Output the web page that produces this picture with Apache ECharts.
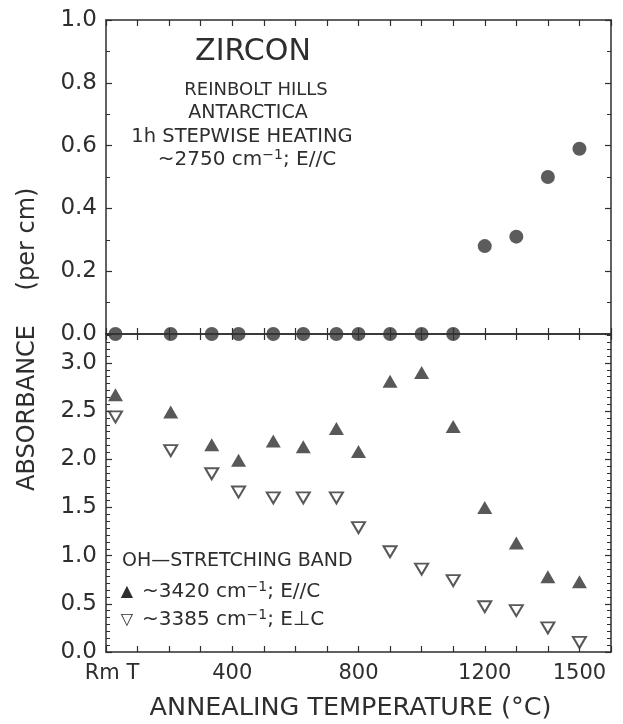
<!DOCTYPE html>
<html>
<head>
<meta charset="utf-8">
<script src="https://cdn.jsdelivr.net/npm/echarts@6/dist/echarts.min.js"></script>
<style>
  html, body { margin: 0; padding: 0; background: #fff; }
  #chart { width: 623px; height: 724px; }
</style>
</head>
<body>
<div id="chart"></div>
<script>
// Annealing steps (°C); the first step is room temperature
const temps = [30, 205, 335, 420, 530, 625, 730, 800, 900, 1000, 1100, 1200, 1300, 1400, 1500];
// ~2750 cm-1 band, E//c (upper panel)
const band2750 = [0, 0, 0, 0, 0, 0, 0, 0, 0, 0, 0, 0.28, 0.31, 0.50, 0.59];
// OH-stretching bands (lower panel)
const band3420 = [2.67, 2.49, 2.15, 1.99, 2.19, 2.13, 2.32, 2.08, 2.81, 2.90, 2.34, 1.50, 1.13, 0.78, 0.73];
const band3385 = [2.44, 2.09, 1.85, 1.66, 1.60, 1.60, 1.60, 1.29, 1.04, 0.86, 0.74, 0.47, 0.43, 0.25, 0.10];
// Temperature axis labels
const xTickLabels = { 0: 'Rm T', 400: '400', 800: '800', 1200: '1200', 1500: '1500' };

const ink = '#2e2e2e';
const FONT = '"DejaVu Sans", Verdana, sans-serif';
const zip = (xs, ys) => xs.map((x, i) => [x, ys[i]]);

const lineStyle = { color: ink, width: 1.5 };
const tick = { show: true, inside: true, length: 6, lineStyle: { color: ink, width: 1.2 } };

function xAxis(gridIndex, position, withLabels) {
  const ax = {
    type: 'value', gridIndex, position, min: 0, max: 1600, interval: 100,
    axisLine: { show: true, onZero: false, lineStyle },
    axisTick: tick,
    splitLine: { show: false },
    axisLabel: { show: false }
  };
  if (withLabels) {
    ax.axisLabel = {
      show: true, margin: 11, color: ink, fontFamily: FONT, fontSize: 21,
      formatter: v => v === 0 ? '{rm|Rm T}' : (xTickLabels[v] || ''),
      rich: { rm: { fontFamily: FONT, fontSize: 21, color: ink, padding: [0, 0, 0, 12] } }
    };
    ax.name = 'ANNEALING TEMPERATURE (°C)';
    ax.nameLocation = 'middle';
    ax.nameGap = 43;
    ax.nameTextStyle = { color: ink, fontFamily: FONT, fontSize: 25.5, padding: [0, 16, 0, 0] };
  }
  return ax;
}

function yAxis(gridIndex, position, max, interval, minorSplit, withLabels) {
  return {
    type: 'value', gridIndex, position, min: 0, max, interval,
    axisLine: { show: true, onZero: false, lineStyle },
    axisTick: tick,
    minorTick: { show: true, splitNumber: minorSplit, length: 4, lineStyle: { color: ink, width: 1 } },
    splitLine: { show: false },
    minorSplitLine: { show: false },
    axisLabel: {
      show: withLabels, margin: 9, color: ink, fontFamily: FONT, fontSize: 23,
      showMaxLabel: max === 1, formatter: v => v.toFixed(1)
    }
  };
}

function label(x, y, text, size, align, rotation) {
  return {
    type: 'text', x, y, rotation: rotation || 0, silent: true,
    style: {
      text, fill: ink, font: size + 'px ' + FONT, align: align || 'center', verticalAlign: 'middle'
    }
  };
}

// Rich text with a "−1" superscript on cm
function supText(x, y, parts, size, align) {
  const rich = {
    t: { fontFamily: FONT, fontSize: size, fill: ink, lineHeight: size + 4 },
    s: { fontFamily: FONT, fontSize: Math.round(size * 0.68), fill: ink, verticalAlign: 'top', lineHeight: size + 4 }
  };
  return {
    type: 'text', x, y, silent: true,
    style: {
      text: parts.map(p => p.sup ? '{s|' + p.sup + '}' : '{t|' + p.t + '}').join(''),
      rich, fill: ink, font: size + 'px ' + FONT, align: align || 'center', verticalAlign: 'middle'
    }
  };
}

const chart = echarts.init(document.getElementById('chart'));
chart.setOption({
  backgroundColor: '#fff',
  animation: false,
  grid: [
    { left: 106, right: 12, top: 20, height: 314 },
    { left: 106, right: 12, top: 334, height: 318 }
  ],
  xAxis: [
    xAxis(0, 'bottom', false),
    xAxis(0, 'top', false),
    xAxis(1, 'top', false),
    xAxis(1, 'bottom', true)
  ],
  yAxis: [
    yAxis(0, 'left', 1, 0.2, 2, true),
    yAxis(0, 'right', 1, 0.2, 2, false),
    yAxis(1, 'left', 3.3, 0.5, 7, true),
    yAxis(1, 'right', 3.3, 0.5, 7, false)
  ],
  series: [
    {
      name: '~2750 cm-1; E//C', type: 'scatter', xAxisIndex: 0, yAxisIndex: 0, clip: false,
      symbol: 'circle', symbolSize: 14, itemStyle: { color: '#333' },
      data: zip(temps, band2750)
    },
    {
      name: '~3420 cm-1; E//C', type: 'scatter', xAxisIndex: 3, yAxisIndex: 2, clip: false,
      symbol: 'triangle', symbolSize: [15, 13], itemStyle: { color: '#2e2e2e' },
      data: zip(temps, band3420)
    },
    {
      name: '~3385 cm-1; E⊥C', type: 'scatter', xAxisIndex: 3, yAxisIndex: 2, clip: false,
      symbol: 'triangle', symbolRotate: 180, symbolSize: [13, 11],
      itemStyle: { color: '#fff', borderColor: '#2e2e2e', borderWidth: 2 },
      data: zip(temps, band3385)
    }
  ],
  graphic: [
    // vertical axis title spanning both panels
    label(28, 239, '(per cm)', 24, 'center', Math.PI / 2),
    label(28, 408, 'ABSORBANCE', 24, 'center', Math.PI / 2),
    // upper panel caption
    label(253, 52, 'ZIRCON', 30),
    label(256, 90, 'REINBOLT HILLS', 18),
    label(248, 113, 'ANTARCTICA', 19),
    label(242, 137, '1h STEPWISE HEATING', 19.5),
    supText(247, 160, [{ t: '~2750 cm' }, { sup: '−1' }, { t: '; E//C' }], 20),
    // lower panel key
    label(122, 561, 'OH—STRETCHING BAND', 19, 'left'),
    label(127, 592, '▲', 16),
    supText(142, 592, [{ t: '~3420 cm' }, { sup: '−1' }, { t: '; E//C' }], 20, 'left'),
    label(127, 620, '▽', 16),
    supText(142, 620, [{ t: '~3385 cm' }, { sup: '−1' }, { t: '; E⊥C' }], 20, 'left')
  ]
});
</script>
</body>
</html>
